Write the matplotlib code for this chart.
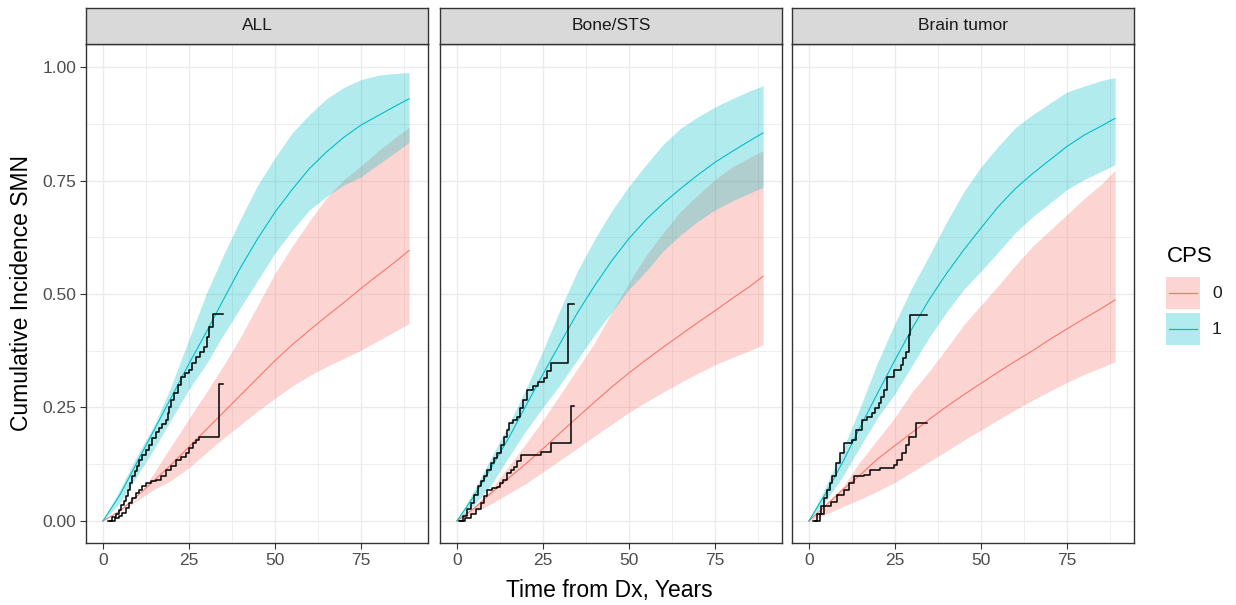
import numpy as np
import matplotlib
matplotlib.use("Agg")
import matplotlib.pyplot as plt
from matplotlib.patches import Rectangle

plt.rcParams["font.family"] = ["Liberation Sans", "DejaVu Sans"]

# ---- data ----
panels = ["ALL", "Bone/STS", "Brain tumor"]
years = [0, 5, 10, 15, 20, 25, 30, 35, 40, 45, 50, 55, 60, 65, 70, 75, 80, 85, 89]

# fitted cumulative incidence, CPS = 1 (cyan)
cps1_fit = {
    "ALL":         [0, .058, .130, .202, .274, .346, .415, .487, .558, .622, .680, .730, .776, .813, .845, .872, .893, .914, .930],
    "Bone/STS":    [0, .055, .118, .182, .253, .323, .391, .458, .518, .573, .622, .664, .700, .732, .762, .790, .814, .837, .855],
    "Brain tumor": [0, .062, .132, .208, .282, .354, .424, .488, .545, .597, .645, .692, .732, .765, .795, .825, .850, .870, .887],
}
cps1_hi = {
    "ALL":         [0, .070, .145, .212, .300, .400, .500, .585, .665, .740, .800, .855, .895, .930, .955, .972, .982, .986, .988],
    "Bone/STS":    [0, .068, .140, .212, .290, .375, .465, .550, .620, .683, .737, .785, .830, .865, .890, .912, .930, .947, .959],
    "Brain tumor": [0, .078, .160, .252, .350, .435, .515, .585, .658, .725, .780, .825, .866, .895, .920, .945, .958, .970, .977],
}
cps1_lo = {
    "ALL":         [0, .040, .100, .160, .225, .290, .345, .410, .470, .530, .590, .640, .685, .715, .740, .758, .785, .812, .834],
    "Bone/STS":    [0, .035, .080, .140, .198, .250, .300, .355, .410, .460, .510, .550, .595, .630, .660, .685, .705, .722, .735],
    "Brain tumor": [0, .045, .100, .165, .228, .280, .343, .405, .460, .510, .550, .592, .635, .670, .700, .730, .752, .770, .785],
}
# fitted cumulative incidence, CPS = 0 (red)
cps0_fit = {
    "ALL":         [0, .022, .055, .090, .125, .163, .201, .239, .277, .315, .353, .388, .420, .451, .481, .512, .542, .571, .596],
    "Bone/STS":    [0, .028, .062, .094, .126, .159, .194, .228, .262, .295, .326, .355, .383, .410, .437, .463, .490, .516, .539],
    "Brain tumor": [0, .035, .070, .102, .137, .166, .195, .224, .252, .278, .303, .328, .352, .375, .400, .423, .446, .468, .487],
}
cps0_hi = {
    "ALL":         [0, .020, .050, .108, .167, .225, .283, .342, .405, .475, .545, .605, .660, .712, .752, .782, .815, .845, .867],
    "Bone/STS":    [0, .030, .070, .120, .170, .222, .278, .335, .392, .460, .525, .585, .635, .682, .718, .752, .780, .800, .816],
    "Brain tumor": [0, .035, .077, .132, .180, .228, .284, .330, .380, .432, .475, .518, .563, .605, .640, .675, .710, .742, .773],
}
cps0_lo = {
    "ALL":         [0, .020, .045, .070, .090, .117, .150, .182, .212, .242, .270, .297, .320, .340, .358, .376, .397, .418, .435],
    "Bone/STS":    [0, .018, .038, .060, .082, .108, .134, .160, .187, .213, .239, .262, .284, .305, .325, .344, .360, .375, .388],
    "Brain tumor": [0, .015, .032, .048, .066, .085, .108, .131, .154, .178, .200, .223, .245, .266, .286, .305, .323, .338, .351],
}

# observed (step) cumulative incidence: jump times and levels
km1_t = {
    "ALL": [1.5, 2.8, 3.8, 4.7, 5.3, 6.0, 6.7, 7.2, 7.9, 8.6, 9.2, 9.9, 10.6, 11.5, 12.5, 13.3, 14.3,
            15.4, 16.3, 17.3, 18.3, 18.8, 19.3, 19.8, 20.8, 21.8, 22.7, 23.9, 25.1, 26.0, 27.0, 28.3,
            29.5, 30.2, 30.9, 31.9, 34.8],
    "Bone/STS": [0.6, 1.8, 3.0, 4.1, 5.0, 6.0, 7.0, 7.9, 8.9, 9.9, 10.8, 11.8, 12.8, 13.8, 14.5, 15.2,
                 16.4, 17.6, 18.3, 19.1, 20.5, 22.0, 23.5, 25.4, 26.3, 27.3, 32.2, 34.1],
    "Brain tumor": [1.3, 2.4, 3.4, 4.4, 5.3, 6.0, 6.8, 7.8, 9.0, 10.2, 12.6, 13.6, 15.5, 17.0, 18.4,
                    19.3, 20.3, 21.0, 21.8, 22.8, 24.7, 26.7, 27.4, 28.1, 29.1, 29.4, 34.4],
}
km1_v = {
    "ALL": [0, .008, .016, .024, .036, .045, .054, .068, .084, .098, .110, .122, .134, .145, .156, .168, .183,
            .197, .205, .214, .222, .238, .252, .267, .283, .300, .318, .325, .333, .348, .362, .372,
            .384, .405, .428, .457, .457],
    "Bone/STS": [0, .012, .026, .039, .058, .076, .087, .098, .113, .127, .138, .149, .168, .186, .200, .215,
                 .222, .230, .248, .267, .289, .298, .307, .314, .330, .347, .478, .478],
    "Brain tumor": [0, .015, .032, .050, .068, .083, .098, .127, .150, .171, .178, .200, .222, .228, .237,
                    .248, .259, .274, .289, .318, .333, .344, .358, .373, .410, .454, .454],
}
km0_t = {
    "ALL": [2.2, 3.5, 4.6, 5.7, 6.6, 7.6, 8.6, 9.6, 10.6, 11.5, 12.5, 14.0, 15.4, 16.8, 18.3, 19.7, 21.2,
            22.6, 24.1, 25.1, 26.1, 27.0, 28.0, 33.8, 34.8],
    "Bone/STS": [1.0, 2.5, 4.1, 5.5, 7.0, 8.0, 8.9, 10.3, 11.8, 12.5, 13.3, 14.7, 15.7, 16.7, 17.6, 18.6,
                 24.4, 27.3, 33.1, 34.1],
    "Brain tumor": [1.8, 3.1, 4.4, 6.3, 8.2, 10.2, 11.6, 13.1, 16.0, 17.9, 20.8, 24.7, 25.7, 27.1, 28.1,
                    29.1, 31.0, 34.4],
}
km0_v = {
    "ALL": [0, .006, .011, .017, .028, .039, .050, .061, .068, .076, .083, .087, .090, .100, .112, .122, .134,
            .141, .149, .160, .171, .178, .186, .302, .302],
    "Bone/STS": [0, .007, .015, .027, .039, .054, .068, .072, .075, .083, .090, .105, .112, .120, .132, .145,
                 .153, .171, .253, .253],
    "Brain tumor": [0, .016, .032, .041, .057, .068, .083, .098, .101, .112, .117, .123, .134, .149, .168,
                    .186, .215, .215],
}

RED = "#F8766D"
CYAN = "#00BFC4"
W, H = 1236, 605


def box(x0, y0, x1, y1):
    return [x0 / W, 1 - y1 / H, (x1 - x0) / W, (y1 - y0) / H]


fig = plt.figure(figsize=(W / 100, H / 100), dpi=100)

lefts = [86, 440, 792]
width = 342
for i, name in enumerate(panels):
    x0 = lefts[i]
    ax = fig.add_axes(box(x0, 44, x0 + width, 543))
    ax.set_xlim(-4.9, 94.5)
    ax.set_ylim(-0.0485, 1.0507)

    ax.fill_between(years, cps0_lo[name], cps0_hi[name], color=RED, alpha=0.3, lw=0)
    ax.fill_between(years, cps1_lo[name], cps1_hi[name], color=CYAN, alpha=0.3, lw=0)
    ax.plot(years, cps0_fit[name], color=RED, lw=0.8)
    ax.plot(years, cps1_fit[name], color=CYAN, lw=0.8)
    ax.plot(km0_t[name], km0_v[name], color="black", lw=1.1, drawstyle="steps-post")
    ax.plot(km1_t[name], km1_v[name], color="black", lw=1.1, drawstyle="steps-post")

    ax.set_xticks([0, 25, 50, 75])
    ax.set_xticks([12.5, 37.5, 62.5, 87.5], minor=True)
    ax.set_yticks([0, 0.25, 0.5, 0.75, 1.0])
    ax.set_yticks([0.125, 0.375, 0.625, 0.875], minor=True)
    ax.grid(True, which="major", color="#EBEBEB", lw=1.0)
    ax.grid(True, which="minor", color="#EBEBEB", lw=0.6)
    ax.set_axisbelow(True)
    ax.tick_params(which="minor", length=0)
    ax.tick_params(which="major", length=4, width=0.8, color="#333333",
                   labelsize=12.5, labelcolor="#4D4D4D", pad=3)
    if i == 0:
        ax.set_yticklabels(["0.00", "0.25", "0.50", "0.75", "1.00"])
    else:
        ax.tick_params(axis="y", length=0, labelleft=False)
    for s in ax.spines.values():
        s.set_color("#333333")
        s.set_linewidth(1.0)

    # facet strip
    st = fig.add_axes(box(x0, 8, x0 + width, 44))
    st.set_facecolor("#D9D9D9")
    st.set_xticks([])
    st.set_yticks([])
    for s in st.spines.values():
        s.set_color("#333333")
        s.set_linewidth(1.0)
    st.text(0.5, 0.5, name, ha="center", va="center", fontsize=12.5,
            color="#1A1A1A", transform=st.transAxes)

fig.text(609 / W, 1 - 590 / H, "Time from Dx, Years", ha="center", va="center", fontsize=16.5)
fig.text(22 / W, 1 - 293 / H, "Cumulative Incidence SMN", ha="center", va="center",
         rotation=90, fontsize=16.5)

# legend
lg = fig.add_axes(box(1150, 240, 1236, 360))
lg.set_xlim(1150, 1236)
lg.set_ylim(360, 240)
lg.axis("off")
lg.text(1167, 256, "CPS", ha="left", va="center", fontsize=16)
for j, (lab, col) in enumerate([("0", RED), ("1", CYAN)]):
    yc = 293 + 36 * j
    lg.add_patch(Rectangle((1166, yc - 16), 34, 32, facecolor=col, alpha=0.3, lw=0))
    lg.plot([1169, 1197], [yc, yc], color=col, lw=0.9)
    lg.text(1212, yc, lab, ha="left", va="center", fontsize=12.5, color="#1A1A1A")

fig.savefig("out.png", dpi=100)
